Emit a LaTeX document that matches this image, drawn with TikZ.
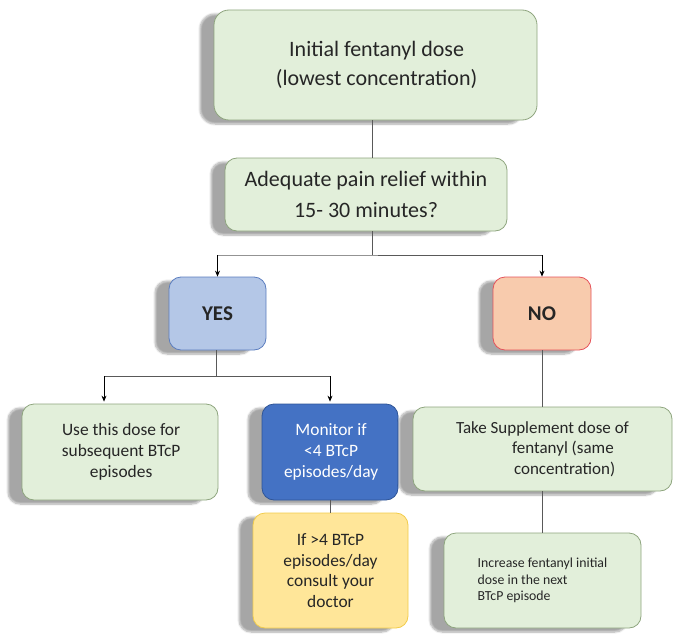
\documentclass[tikz,border=0pt]{standalone}
\usepackage{fontspec}
\setmainfont{Carlito}
\usetikzlibrary{arrows.meta,shadows.blur}

\definecolor{pale}{HTML}{E2EFDA}
\definecolor{paleline}{HTML}{8EA57E}
\definecolor{yesfill}{HTML}{B4C7E7}
\definecolor{yesline}{HTML}{5B7DBF}
\definecolor{nofill}{HTML}{F8CBAD}
\definecolor{noline}{HTML}{E5525A}
\definecolor{monfill}{HTML}{4472C4}
\definecolor{monline}{HTML}{2F5597}
\definecolor{docfill}{HTML}{FFE699}
\definecolor{docline}{HTML}{F2CC4A}
\definecolor{wire}{HTML}{595959}

\tikzset{
	box/.style={rounded corners=12pt, line width=0.8pt, align=center, text=black!85,
		blur shadow={shadow xshift=-14pt, shadow yshift=-4pt, shadow opacity=35, shadow blur steps=8}},
	greenbox/.style={box, draw=paleline, fill=pale},
	wire/.style={draw=wire, line width=0.9pt},
	arr/.style={draw=black, line width=0.7pt, -{Stealth[length=6pt,width=5pt]}}
}

\begin{document}
\begin{tikzpicture}[x=1pt,y=-1pt]
	\useasboundingbox (0,0) rectangle (677,642);
	\def \bigtxt{ \fontsize{22}{29}\selectfont };
	\def \midtxt{ \fontsize{17.4}{21}\selectfont };
	% boxes
	\node[greenbox, rounded corners=15pt, minimum width=323pt, minimum height=110pt, font=\bigtxt] (0) at (375.5,65) {Initial fentanyl dose\\(lowest concentration)};
	\node[greenbox, minimum width=282pt, minimum height=73pt, font=\fontsize{22}{31}\selectfont] (1) at (366,194.5) {Adequate pain relief within\\15- 30 minutes?};
	\node[box, draw=yesline, fill=yesfill, minimum width=97pt, minimum height=73pt, font=\fontsize{21}{24}\selectfont\bfseries] (2) at (217.5,313.5) {YES};
	\node[box, draw=noline, fill=nofill, minimum width=98pt, minimum height=73pt, font=\fontsize{21}{24}\selectfont\bfseries] (3) at (542,313.5) {NO};
	\node[greenbox, minimum width=196pt, minimum height=96pt, font=\midtxt] (4) at (120,452) {Use this dose for\\subsequent BTcP\\episodes};
	\node[box, draw=monline, fill=monfill, text=white, minimum width=136pt, minimum height=96pt, font=\midtxt] (5) at (330,452) {Monitor if\\<4 BTcP\\episodes/day};
	\node[greenbox, minimum width=259pt, minimum height=84pt, align=left, font=\fontsize{17}{20.5}\selectfont] (6) at (542.5,449) {Take Supplement dose of\\\hspace*{56pt}fentanyl (same\\\hspace*{58pt}concentration)};
	\node[box, draw=docline, fill=docfill, minimum width=155pt, minimum height=115pt, font=\fontsize{17.4}{20.5}\selectfont] (7) at (330.5,570.5) {If >4 BTcP\\episodes/day\\consult your\\doctor};
	\node[greenbox, minimum width=197pt, minimum height=95pt, align=left, font=\fontsize{13.8}{16.5}\selectfont] (8) at (542.5,580.5) {Increase fentanyl initial\\dose in the next\\BTcP episode};
	% forks
	\coordinate (f1) at (372,255);
	\coordinate (f2) at (216,376);
	% connectors
	\draw[wire] (0.south -| f1) -- (1.north -| f1);
	\draw[wire] (1.south -| f1) -- (f1);
	\draw[wire] (f1) -- (f1 -| 2.north) -- (f1 -| 3.north);
	\draw[arr] (f1 -| 2.north) -- (2.north);
	\draw[arr] (f1 -| 3.north) -- (3.north);
	\draw[wire] (2.south -| f2) -- (f2);
	\draw[wire] ([xshift=-16pt]f2 -| 4.north) -- (f2 -| 5.north);
	\draw[arr, shorten >=2pt] ([xshift=-16pt]f2 -| 4.north) -- ([xshift=-16pt]4.north);
	\draw[arr, shorten >=2pt] (f2 -| 5.north) -- (5.north);
	\draw[wire] (3.south) -- (6.north -| 3.south);
	\draw[wire] (6.south -| 3.south) -- (8.north -| 3.south);
	\draw[wire] (5.south) -- (7.north -| 5.south);
\end{tikzpicture}
\end{document}
